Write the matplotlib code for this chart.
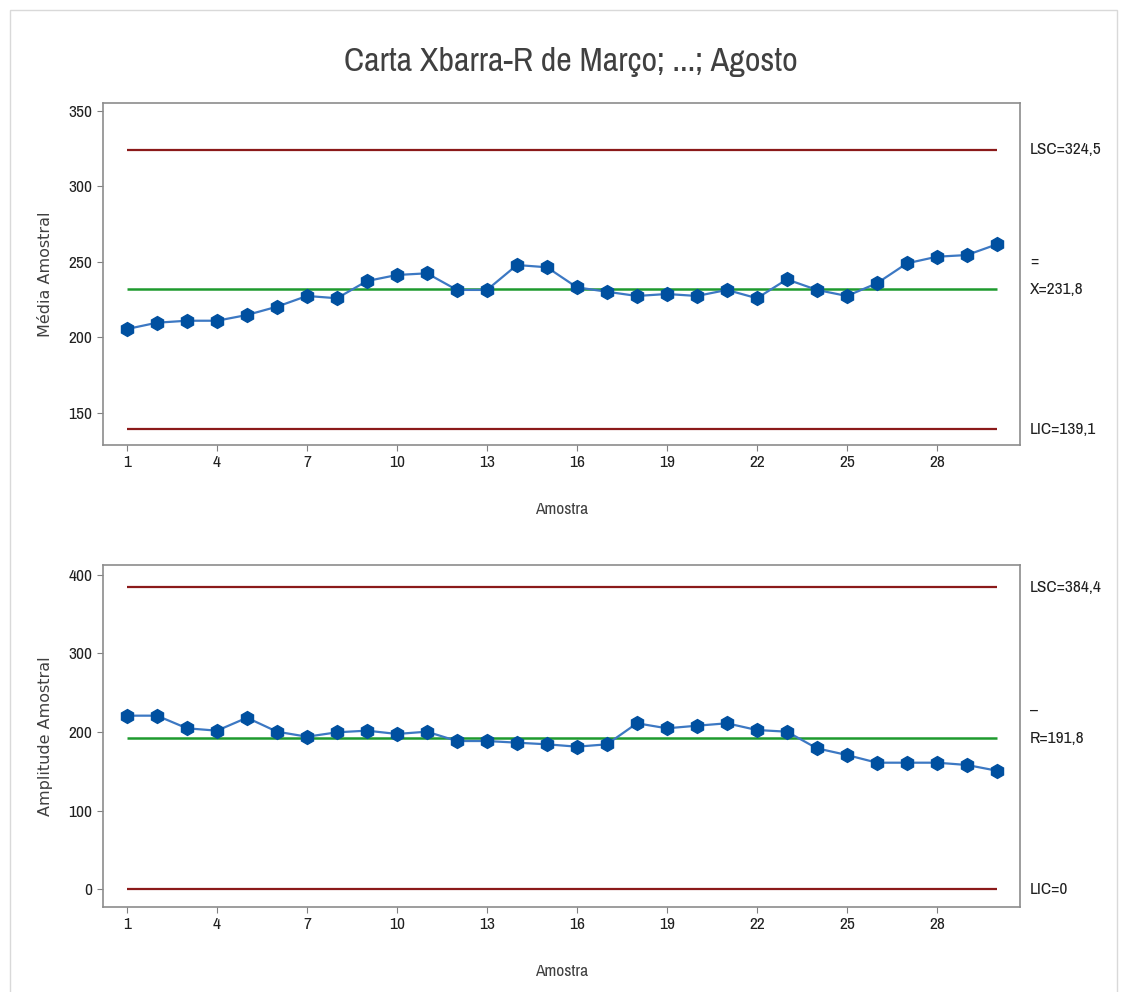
import numpy as np
import matplotlib
matplotlib.use("Agg")
import matplotlib.pyplot as plt
from matplotlib.font_manager import fontManager

amostra = np.arange(1, 31)
media = [205.6, 209.8, 211.1, 211.1, 214.9, 220.4, 227.5, 226.0, 237.4, 241.4,
         242.5, 231.5, 231.5, 248.0, 246.5, 233.2, 230.3, 227.5, 228.8, 227.5,
         231.5, 226.0, 238.5, 231.5, 227.5, 235.9, 249.1, 253.5, 254.6, 261.7]
amplitude = [220.8, 220.8, 204.7, 201.7, 218.2, 200.4, 194.0, 199.6, 201.7, 197.5,
             200.4, 188.5, 188.5, 186.4, 184.3, 181.3, 184.3, 211.1, 204.7, 208.0,
             211.1, 202.5, 200.4, 179.2, 170.7, 160.9, 160.9, 160.9, 158.0, 150.7]
lim_media = (324.5, 231.8, 139.1)
lim_amp = (384.4, 191.8, 0.0)
rot_media = ("LSC=324,5", "X=231,8", "LIC=139,1")
rot_amp = ("LSC=384,4", "R=191,8", "LIC=0")
xticks = [1, 4, 7, 10, 13, 16, 19, 22, 25, 28]

# cherche une police etroite si dispo
etroite = None
for f in fontManager.ttflist:
    if 'Narrow' in f.name or 'Condensed' in f.name:
        etroite = f.name
        break
if etroite:
    plt.rcParams['font.family'] = [etroite, 'DejaVu Sans']
    tt, tl = 24.5, 12.5
else:
    plt.rcParams['font.family'] = ['Open Sans', 'DejaVu Sans']
    tt, tl = 20, 10.5

fig = plt.figure(figsize=(11.24, 9.92), dpi=100)
fig.patch.set_facecolor('white')
# cadre gris clair autour
fig.add_artist(plt.Rectangle((0.009, -0.01), 0.985, 1.0, transform=fig.transFigure,
                             fill=False, edgecolor='#d9d9d9', lw=1))

ax1 = fig.add_axes([103/1124, 1-445/992, 917/1124, 342/992])
ax2 = fig.add_axes([103/1124, 1-907/992, 917/1124, 342/992])

vermelho = '#8b1a1a'
verde = '#1e9a2e'
azul = '#0050a0'


def carta(ax, y, lims, rot, sym, ylim, yticks, ylabel):
    ax.plot(amostra, y, color='#3c78c3', lw=1.6, zorder=3)
    ax.plot(amostra, y, ls='none', marker='h', ms=10, color=azul, zorder=4)
    ax.hlines([lims[0], lims[2]], 1, 30, color=vermelho, lw=1.6, zorder=2)
    ax.hlines(lims[1], 1, 30, color=verde, lw=1.8, zorder=2)
    ax.set_xlim(0.2, 30.77)
    ax.set_ylim(*ylim)
    ax.set_xticks(xticks)
    ax.set_yticks(yticks)
    ax.tick_params(labelsize=tl, colors='#202020', length=4, color='#808080')
    for s in ax.spines.values():
        s.set_color('#8c8c8c')
        s.set_linewidth(1.2)
    ax.set_xlabel('Amostra', fontsize=tl, color='#404040', labelpad=23)
    ax.set_ylabel(ylabel, fontsize=11.5, color='#404040', family='DejaVu Sans',
                  labelpad=11)
    tr = ax.get_yaxis_transform()
    for v, t in zip(lims, rot):
        ax.text(1.011, v, t, transform=tr, ha='left', va='center',
                fontsize=tl, color='#202020')
    ax.annotate(sym, xy=(1.011, lims[1]), xycoords=tr, xytext=(0, 20),
                textcoords='offset points', ha='left', va='center',
                fontsize=tl, color='#202020')


carta(ax1, media, lim_media, rot_media, '=', (128.8, 355.3),
      [150, 200, 250, 300, 350], 'Média Amostral')
carta(ax2, amplitude, lim_amp, rot_amp, '–', (-22.9, 412.7),
      [0, 100, 200, 300, 400], 'Amplitude Amostral')

fig.text(0.508, 1-62/992, 'Carta Xbarra-R de Março; ...; Agosto', ha='center',
         va='center', fontsize=tt, color='#404040')

fig.savefig('out.png', dpi=100)
